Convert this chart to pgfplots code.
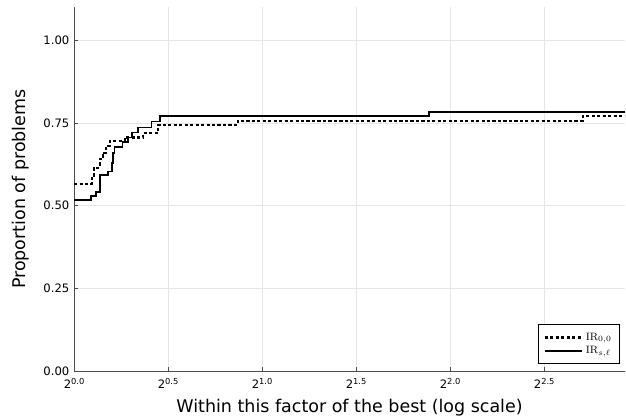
\documentclass[border=0pt]{standalone}
\usepackage{pgfplots}
\pgfplotsset{compat=1.18}
\usepackage[no-math]{fontspec}
\setmainfont{DejaVu Sans}

\newcommand{\pw}[1]{2\raisebox{0.55ex}{\fontsize{6.2}{7}\selectfont #1}}

\begin{document}
\begin{tikzpicture}
\begin{axis}[
    scale only axis,
    width=413pt, height=273pt,
    xmin=0, xmax=2.93,
    ymin=0, ymax=1.1,
    axis x line=bottom, axis y line=left,
    axis line style={-, draw=black!70, line width=0.6pt},
    xtick={0,0.5,1,1.5,2,2.5},
    xticklabels={\pw{0.0},\pw{0.5},\pw{1.0},\pw{1.5},\pw{2.0},\pw{2.5}},
    ytick={0,0.25,0.5,0.75,1},
    yticklabel style={/pgf/number format/.cd, fixed, fixed zerofill, precision=2},
    /pgf/number format/assume math mode=true,
    tick label style={font=\fontsize{8.7}{10}\selectfont},
    xticklabel style={yshift=-2pt},
    tick style={black!70, line width=0.5pt},
    major tick length=3pt,
    tick align=inside,
    grid=major,
    grid style={black!10, line width=0.4pt},
    xlabel={Within this factor of the best (log scale)},
    ylabel={Proportion of problems},
    label style={font=\fontsize{13.1}{15}\selectfont},
    xlabel style={yshift=-1.5pt},
    ylabel style={yshift=4pt},
    legend cell align=left,
    legend image code/.code={\draw[#1] (0pt,0pt) -- (28pt,0pt);},
    legend style={at={(0.99,0.02)}, anchor=south east, draw=black, line width=0.7pt,
        font=\fontsize{8.5}{10}\selectfont, inner xsep=3.5pt, inner ysep=4pt, row sep=-1pt},
]
\addplot[const plot, black, line width=1.6pt, dash pattern=on 2.4pt off 1.7pt] coordinates {
(0,0.566) (0.097,0.59) (0.104,0.615) (0.136,0.64) (0.152,0.66) (0.168,0.68)
(0.189,0.696) (0.269,0.706) (0.367,0.719) (0.447,0.744) (0.87,0.756)
(2.705,0.770) (2.93,0.770)};
\addlegendentry{$\mathrm{IR}_{0,0}$}
\addplot[const plot, black, line width=1.4pt] coordinates {
(0,0.518) (0.0915,0.530) (0.118,0.541) (0.136,0.593) (0.18,0.603) (0.20,0.63)
(0.207,0.66) (0.215,0.676) (0.258,0.693) (0.285,0.706) (0.306,0.721)
(0.338,0.736) (0.412,0.754) (0.455,0.770) (1.887,0.784) (2.93,0.784)};
\addlegendentry{$\mathrm{IR}_{s,\ell}$}
\end{axis}
\pgfresetboundingbox
\path[use as bounding box] ([shift={(-55.5pt,-35.25pt)}]current axis.south west)
    rectangle ([shift={(0.75pt,5.25pt)}]current axis.north east);
\end{tikzpicture}
\end{document}
